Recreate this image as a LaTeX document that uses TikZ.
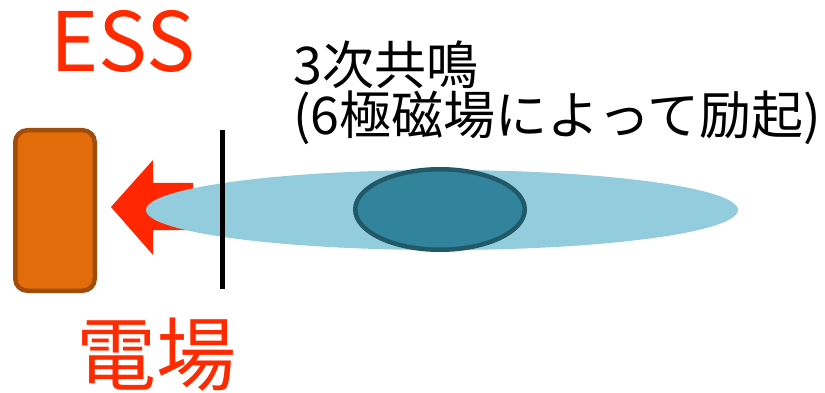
\documentclass[tikz,border=0pt]{standalone}
\usepackage{fontspec}
\setmainfont{Noto Sans CJK JP}
\usetikzlibrary{shapes.geometric}
\definecolor{essred}{HTML}{FF2A00}
\definecolor{arrowred}{HTML}{FF2600}
\definecolor{essorange}{HTML}{E36C0A}
\definecolor{essbrown}{HTML}{A04D0C}
\definecolor{beamblue}{HTML}{93CDDD}
\definecolor{coreteal}{HTML}{31849B}
\definecolor{coreedge}{HTML}{215968}
\tikzset{
  redlabel/.style={text=essred, inner sep=0pt},
  textlabel/.style={text=black, inner sep=0pt, align=left},
}
\begin{document}
\begin{tikzpicture}[x=1pt,y=-1pt]
\useasboundingbox[fill=white] (0,0) rectangle (825,393);
% ESS electrode
\node[draw=essbrown, fill=essorange, line width=4.5pt, rounded corners=12pt,
      minimum width=79.5pt, minimum height=160.5pt, inner sep=0pt] (ess) at (55,210.5) {};
% field arrow
\fill[arrowred] (111,207) -- (153,160) -- (153,183) -- (193,183) -- (193,230)
  -- (153,230) -- (153,255) -- cycle;
% beam
\node[ellipse, fill=beamblue, minimum width=592pt, minimum height=80pt, inner sep=0pt] (beam) at (442,210) {};
% septum line
\coordinate (lt) at (222.5,130);
\coordinate (lb) at (222.5,289);
\draw[line width=4.5pt] (lt) -- (lb);
% core
\node[ellipse, draw=coreedge, fill=coreteal, line width=4.5pt, minimum width=169.5pt,
      minimum height=80.5pt, inner sep=0pt] (core) at (440,209.5) {};
% labels
\node[redlabel, font=\fontsize{82}{90}\selectfont, anchor=base] (esslbl) at (122.5,72) {ESS};
\node[redlabel, font=\fontsize{80}{90}\selectfont, anchor=base] (field) at (156.5,384) {電場};
\node[textlabel, font=\fontsize{52}{50}\selectfont, anchor=base west] (res) at (293,135)
  {3次共鳴\\(6極磁場によって励起)};
\end{tikzpicture}
\end{document}
